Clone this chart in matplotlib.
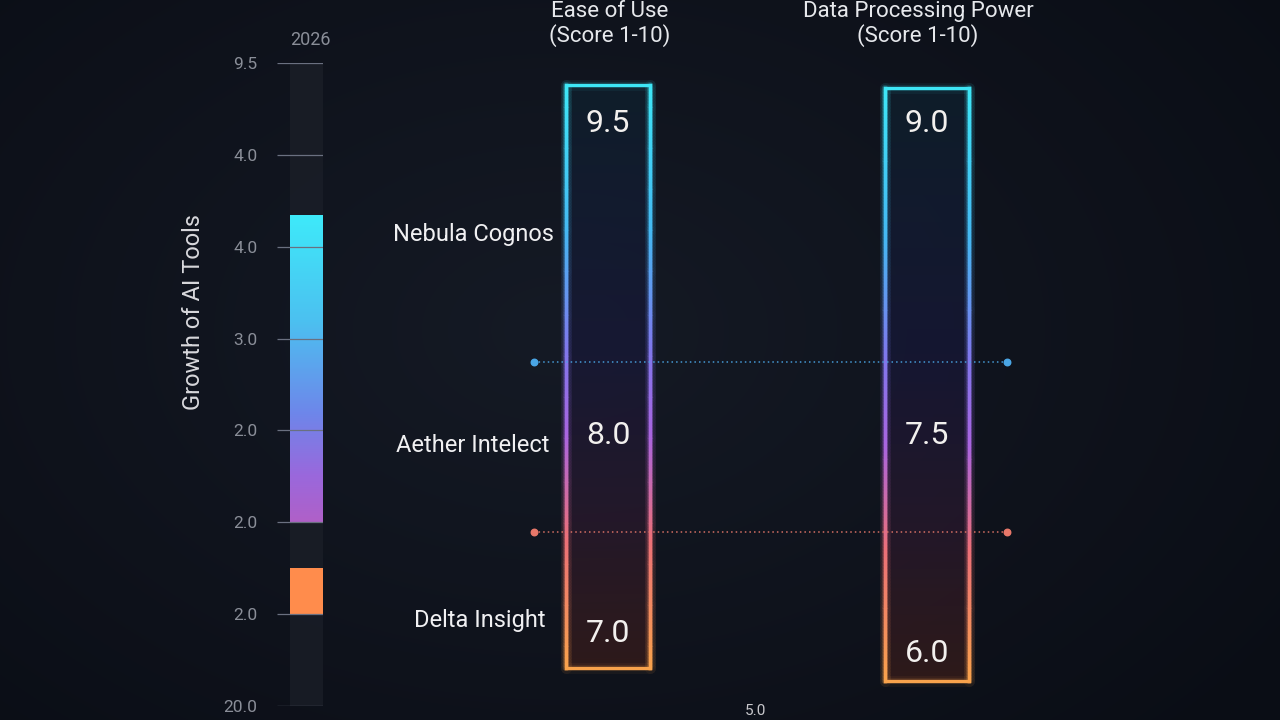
import numpy as np
import matplotlib
matplotlib.use("Agg")
import matplotlib.pyplot as plt
from matplotlib.collections import LineCollection
from matplotlib.colors import LinearSegmentedColormap, to_rgb
from matplotlib.patches import Rectangle

# --- data ---
metrics = ["Ease of Use\n(Score 1-10)", "Data Processing Power\n(Score 1-10)"]
tools = ["Nebula Cognos", "Aether Intelect", "Delta Insight"]
ease_scores = [9.5, 8.0, 7.0]
power_scores = [9.0, 7.5, 6.0]
growth_ticks = ["9.5", "4.0", "4.0", "3.0", "2.0", "2.0", "2.0", "20.0"]
growth_year = "2026"
growth_bars = [(1.65, 5.0), (5.5, 6.0)]  # start/end in tick units
axis_label = "Growth of AI Tools"
stray_label = "5.0"

# --- layout (pixels, 1280x720 canvas) ---
col_x = [608, 927]
col_w = 84
col_top = [85, 88]
col_bottom = [668, 681]
title_x = [610, 918]
value_y = [[123, 435, 633], [123, 435, 653]]
row_label_x = [473, 473, 480]
row_label_y = [235, 445, 620]
divider_y = [362, 532]
divider_colors = ["#4aa6e6", "#e8786a"]

plt.rcParams["font.family"] = ["Roboto", "DejaVu Sans"]

fig = plt.figure(figsize=(12.8, 7.2), dpi=100)
fig.patch.set_facecolor("#0b0f17")

# background with a soft vignette
ax_bg = fig.add_axes([0, 0, 1, 1])
ax_bg.set_axis_off()
yy, xx = np.mgrid[0:720, 0:1280]
r = np.sqrt(((xx - 560) / 900) ** 2 + ((yy - 330) / 600) ** 2)
base = np.array(to_rgb("#0a0d15"))
light = np.array(to_rgb("#151a25"))
t = np.clip(1 - r, 0, 1)[..., None]
ax_bg.imshow(base + (light - base) * t, extent=[0, 1280, 720, 0], aspect="auto")
ax_bg.set_xlim(0, 1280)
ax_bg.set_ylim(720, 0)

# main overlay axes in pixel units
ax = fig.add_axes([0, 0, 1, 1])
ax.set_xlim(0, 1280)
ax.set_ylim(720, 0)
ax.set_axis_off()
ax.patch.set_alpha(0)

edge_cmap = LinearSegmentedColormap.from_list("edge", [
    (0.0, "#3ee6f6"), (0.25, "#45b8f2"), (0.45, "#7f78ec"),
    (0.6, "#a965e0"), (0.78, "#ec7078"), (1.0, "#f8a24c")])
fill_cmap = LinearSegmentedColormap.from_list("fill", [
    (0.0, "#0f2230"), (0.45, "#18183a"), (0.75, "#2c1a2e"), (1.0, "#3c1e1a")])

for i, (cx, top, bot) in enumerate(zip(col_x, col_top, col_bottom)):
    x0, x1 = cx - col_w / 2, cx + col_w / 2
    # interior gradient
    grad = np.linspace(0, 1, 256)[:, None]
    rect = Rectangle((x0, top), col_w, bot - top, facecolor="none", edgecolor="none")
    ax.add_patch(rect)
    im = ax.imshow(grad, cmap=fill_cmap, extent=[x0, x1, bot, top], aspect="auto", alpha=0.7)
    im.set_clip_path(rect)
    # gradient outline
    ys = np.linspace(top, bot, 200)
    segs, cols = [], []
    for xe in (x0, x1):
        for a, b in zip(ys[:-1], ys[1:]):
            segs.append([(xe, a), (xe, b)])
            cols.append(edge_cmap((a - top) / (bot - top)))
    segs.append([(x0, top), (x1, top)])
    cols.append(edge_cmap(0.0))
    segs.append([(x0, bot), (x1, bot)])
    cols.append(edge_cmap(1.0))
    ax.add_collection(LineCollection(segs, colors=cols, linewidths=8, alpha=0.05, capstyle="round"))
    ax.add_collection(LineCollection(segs, colors=cols, linewidths=4.5, alpha=0.1, capstyle="round"))
    ax.add_collection(LineCollection(segs, colors=cols, linewidths=2.4, capstyle="projecting"))
    # title
    ax.text(title_x[i], 24, metrics[i], ha="center", va="center",
            color="#e6e8ec", fontsize=16, linespacing=1.15)

for i, scores in enumerate([ease_scores, power_scores]):
    for j, v in enumerate(scores):
        ax.text(col_x[i], value_y[i][j], f"{v:.1f}", ha="center", va="center",
                color="#f2f0ee", fontsize=23)

for name, lx, ly in zip(tools, row_label_x, row_label_y):
    ax.text(lx, ly, name, ha="center", va="center", color="#f0f0f2", fontsize=17)

for dy, dc in zip(divider_y, divider_colors):
    ax.plot([534, 1007], [dy, dy], ls=(0, (1, 2)), color=dc, lw=1.1, alpha=0.9)
    ax.scatter([534, 1007], [dy, dy], s=22, color=dc, zorder=5)

ax.text(755, 711, stray_label, ha="center", va="center", color="#c8c8cc", fontsize=11)

# left growth bar
ax_l = fig.add_axes([277 / 1280, 1 - 706 / 720, 46 / 1280, (706 - 63) / 720])
ax_l.patch.set_alpha(0)
for s in ax_l.spines.values():
    s.set_visible(False)
ax_l.set_xticks([])
ax_l.set_yticks(range(len(growth_ticks)), growth_ticks)
ax_l.tick_params(axis="y", length=0, pad=14, labelsize=12.5, labelcolor="#8a8e98")

track_x = 13 / 46
ax_l.bar(0.5 + track_x / 2, len(growth_ticks) - 1, width=1 - track_x, bottom=0,
         color="#1c2029", alpha=0.7, zorder=1)
ax_l.hlines(range(len(growth_ticks)), 0, 1, color="#6a7080", lw=0.9, zorder=3)

bar_cmap = LinearSegmentedColormap.from_list("bar", [
    (0.0, "#3eeafa"), (0.35, "#4cc0f0"), (0.65, "#6e86ea"), (0.85, "#9a68dc"), (1.0, "#b060c8")])
s0, e0 = growth_bars[0]
b1 = ax_l.bar(0.5 + track_x / 2, e0 - s0, width=1 - track_x, bottom=s0,
              color="none", zorder=2)[0]
im = ax_l.imshow(np.linspace(0, 1, 256)[:, None], cmap=bar_cmap,
                 extent=[track_x, 1, e0, s0], aspect="auto", zorder=2)
im.set_clip_path(b1)
s1, e1 = growth_bars[1]
ax_l.bar(0.5 + track_x / 2, e1 - s1, width=1 - track_x, bottom=s1,
         color="#ff8c4c", zorder=2)
ax_l.set_xlim(0, 1)
ax_l.set_ylim(len(growth_ticks) - 1, 0)
ax_l.text(0.72, -0.25, growth_year, ha="center", va="center", color="#8a8e98",
          fontsize=13)

fig.text(193 / 1280, 1 - 312 / 720, axis_label, rotation=90, ha="center",
         va="center", color="#d8d8dc", fontsize=17)

fig.savefig("out.png", dpi=100, facecolor=fig.get_facecolor())
